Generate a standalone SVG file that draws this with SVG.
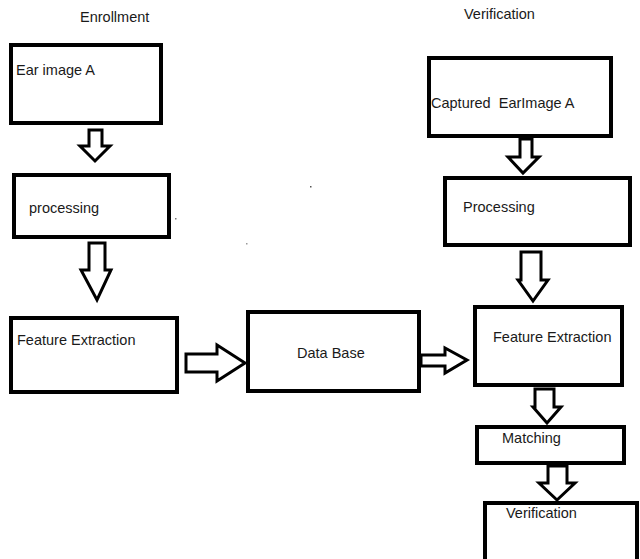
<svg xmlns="http://www.w3.org/2000/svg" width="640" height="559" viewBox="0 0 640 559">
<style>
.box{fill:#fff;stroke:#000;stroke-width:4}
.arr{fill:#fff;stroke:#000;stroke-width:3;stroke-linejoin:miter}
text{font-family:"Liberation Sans",Arial,sans-serif;font-size:14.5px;fill:#1a1a1a}
</style>
<rect width="640" height="559" fill="#fff"/>
<text x="80" y="22">Enrollment</text>
<text x="464" y="19">Verification</text>
<g id="ear-image-a"><rect class="box" x="11" y="45" width="150" height="78"/><text x="16" y="75">Ear image A</text></g>
<g id="processing-enroll"><rect class="box" x="14" y="175" width="155" height="62"/><text x="29" y="213">processing</text></g>
<g id="feature-extraction-enroll"><rect class="box" x="11" y="318" width="166" height="74"/><text x="17" y="345">Feature Extraction</text></g>
<g id="database"><rect class="box" x="248" y="312" width="171" height="79"/><text x="297" y="358">Data Base</text></g>
<g id="captured"><rect class="box" x="429" y="58" width="182" height="78"/><text x="431" y="108">Captured&#160; EarImage A</text></g>
<g id="processing-verify"><rect class="box" x="445" y="178" width="185" height="67"/><text x="463" y="212">Processing</text></g>
<g id="feature-extraction-verify"><rect class="box" x="475" y="307" width="147" height="78"/><text x="493" y="342">Feature Extraction</text></g>
<g id="matching"><rect class="box" x="477" y="427" width="147" height="36"/><text x="502" y="443">Matching</text></g>
<g id="verification"><rect class="box" x="485" y="503" width="152" height="70"/><text x="506" y="518">Verification</text></g>
<g id="connectors">
<polygon class="arr" points="89,130 102,130 102,146 110,146 95,161 80,146 89,146"/>
<polygon class="arr" points="89,243 105,243 105,270 111,270 97,300 81,270 89,270"/>
<polygon class="arr" points="186,354 217,354 217,345 245,363 217,381 217,372 186,372"/>
<polygon class="arr" points="421,355 445,355 445,348 467,360 445,373 445,366 421,366"/>
<polygon class="arr" points="535,389 554,389 554,407 561,407 547,423 533,407 535,407"/>
<polygon class="arr" points="548,466 567,466 567,483 575,483 557,500 539,483 548,483"/>
<polygon class="arr" points="520,139 532,139 532,157 539,157 523,173 508,157 520,157"/>
<polygon class="arr" points="521,252 541,252 541,280 548,280 533,301 518,280 521,280"/>
</g>
<rect x="310" y="186" width="1.5" height="1.5" fill="#555"/>
<rect x="175" y="218" width="1.5" height="1.5" fill="#777"/>
<rect x="246" y="243" width="1.5" height="1.5" fill="#999"/>
</svg>
